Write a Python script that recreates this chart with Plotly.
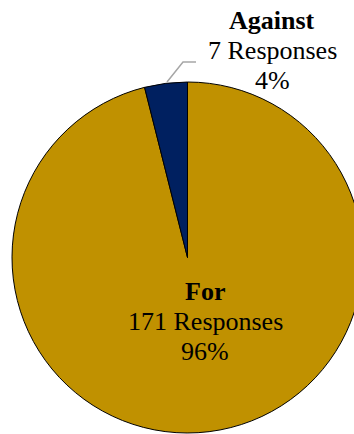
import plotly.graph_objects as go

categories = ["For", "Against"]
responses = [171, 7]
percent_labels = ["96%", "4%"]
colors = ["#C09100", "#002060"]

W, H = 370, 434
def px(x): return x / W
def py(y): return 1 - y / H

fig = go.Figure(go.Pie(
    labels=categories, values=responses, sort=False, direction="clockwise",
    rotation=0, textinfo="none", hoverinfo="label+value+percent",
    marker=dict(colors=colors, line=dict(color="#000000", width=1)),
    domain=dict(x=[px(12), px(363)], y=[py(433), py(82)]),
    showlegend=False,
))

font = "Liberation Serif, Times New Roman, serif"
def label(x, y_base, name, count, pct):
    lines = [f"<b>{name}</b>", f"{count} Responses", pct]
    for i, t in enumerate(lines):
        fig.add_annotation(x=px(x), y=py(y_base + i * 30), xref="paper", yref="paper",
                           text=t, showarrow=False, xanchor="center", yanchor="bottom",
                           font=dict(family=font, size=26, color="#000000"))

label(272, 28 + 9, categories[1], responses[1], percent_labels[1])
label(205, 300 + 8, categories[0], responses[0], percent_labels[0])

# leader line for Against
fig.add_shape(type="path", xref="paper", yref="paper",
              path=f"M {px(167)} {py(82)} L {px(183)} {py(62)} L {px(196)} {py(62)}",
              line=dict(color="#A6A6A6", width=1.5))

fig.update_layout(width=W, height=H, margin=dict(l=0, r=0, t=0, b=0),
                  paper_bgcolor="white", plot_bgcolor="white")

fig.write_html("out.html", post_script="document.body.style.overflow='hidden';document.documentElement.style.overflow='hidden';document.body.style.margin='0';")
